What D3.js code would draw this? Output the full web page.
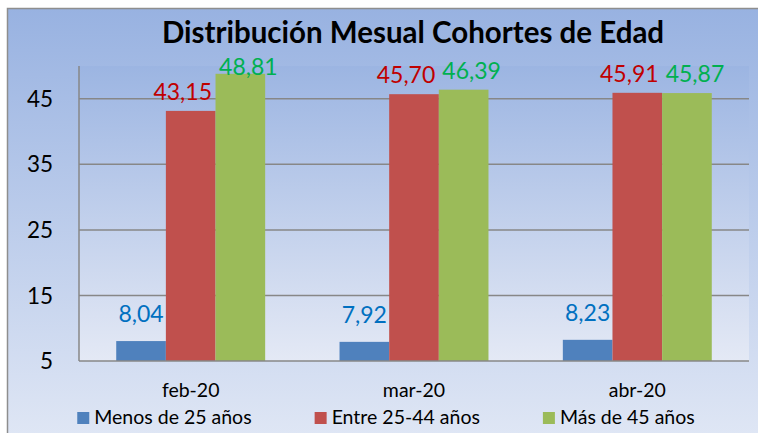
<!DOCTYPE html>
<html>
<head>
<meta charset="utf-8">
<script src="https://cdn.jsdelivr.net/npm/d3@7"></script>
<style>
	body { margin: 0; background: #ffffff; }
	text { font-family: Lato, "Open Sans", sans-serif; }
	.title { font-size: 29.5px; font-weight: bold; fill: #000000; }
	.tick-label { font-size: 22.5px; fill: #000000; }
	.cat-label { font-size: 19.5px; fill: #000000; }
	.value-label { font-size: 23px; }
	.legend-text { font-size: 19.5px; fill: #000000; }
</style>
</head>
<body>
<div id="chart"></div>
<script>
var months = ["feb-20", "mar-20", "abr-20"];
var seriesNames = ["Menos de 25 años", "Entre 25-44 años", "Más de 45 años"];
var menos25 = [8.04, 7.92, 8.23];
var entre2544 = [43.15, 45.70, 45.91];
var mas45 = [48.81, 46.39, 45.87];
var yTicks = [5, 15, 25, 35, 45];

var barColors = ["#4f81bd", "#c0504d", "#9bbb59"];
var labelColors = ["#0070c0", "#c00000", "#00b050"];

///////////////////////////////////////////////////////////////////////////
//////////////////////////// Set up the SVG ///////////////////////////////
///////////////////////////////////////////////////////////////////////////
var width = 758,
	height = 433;
var plot = { left: 79, right: 749, top: 66, bottom: 361 };

var svg = d3.select("#chart")
	.append("svg")
	.attr("width", width)
	.attr("height", height);

var defs = svg.append("defs");

var bgGrad = defs.append("linearGradient")
	.attr("id", "bg-grad")
	.attr("x1", 0).attr("y1", 0).attr("x2", 0).attr("y2", 1);
bgGrad.append("stop").attr("offset", "0%").attr("stop-color", "#98b2e1");
bgGrad.append("stop").attr("offset", "100%").attr("stop-color", "#e0e7f5");

var plotGrad = defs.append("linearGradient")
	.attr("id", "plot-grad")
	.attr("x1", 0).attr("y1", 0).attr("x2", 0).attr("y2", 1);
plotGrad.append("stop").attr("offset", "0%").attr("stop-color", "#9cb5e2");
plotGrad.append("stop").attr("offset", "100%").attr("stop-color", "#e4e9f5");

//Chart background and frame
svg.append("rect")
	.attr("x", 7.5)
	.attr("y", 8.5)
	.attr("width", width)
	.attr("height", height)
	.style("fill", "url(#bg-grad)")
	.style("stroke", "#8e8e8e")
	.style("stroke-width", 1.5);

svg.append("rect")
	.attr("x", plot.left)
	.attr("y", plot.top)
	.attr("width", plot.right - plot.left)
	.attr("height", plot.bottom - plot.top)
	.style("fill", "url(#plot-grad)");

///////////////////////////////////////////////////////////////////////////
////////////////////////// Create the scales //////////////////////////////
///////////////////////////////////////////////////////////////////////////
var x0 = d3.scaleBand()
	.domain(months)
	.range([plot.left, plot.right])
	.paddingInner(0.333)
	.paddingOuter(0.1667);

var x1 = d3.scaleBand()
	.domain(seriesNames)
	.range([0, x0.bandwidth()]);

var y = d3.scaleLinear()
	.domain([5, 50])
	.range([plot.bottom, plot.top]);

var seriesValues = [menos25, entre2544, mas45];
var data = [];
months.forEach(function(m, i) {
	seriesNames.forEach(function(s, j) {
		data.push({ month: m, serie: s, idx: j, value: seriesValues[j][i] });
	});
});

var fmt = function(v) { return d3.format(".2f")(v).replace(".", ","); };

///////////////////////////////////////////////////////////////////////////
//////////////////////////// Grid and axes ////////////////////////////////
///////////////////////////////////////////////////////////////////////////
svg.selectAll(".grid-line")
	.data(yTicks.filter(function(d) { return d > 5; }))
	.enter().append("line")
	.attr("class", "grid-line")
	.attr("x1", plot.left)
	.attr("x2", plot.right)
	.attr("y1", function(d) { return y(d); })
	.attr("y2", function(d) { return y(d); })
	.style("stroke", "#878787")
	.style("stroke-width", 1.5);

svg.selectAll(".tick-label")
	.data(yTicks)
	.enter().append("text")
	.attr("class", "tick-label")
	.attr("x", 53)
	.attr("y", function(d) { return y(d); })
	.attr("dy", "0.36em")
	.style("text-anchor", "end")
	.text(function(d) { return d; });

svg.selectAll(".cat-label")
	.data(months)
	.enter().append("text")
	.attr("class", "cat-label")
	.attr("x", function(d) { return x0(d) + x0.bandwidth() / 2; })
	.attr("y", 397)
	.style("text-anchor", "middle")
	.text(function(d) { return d; });

///////////////////////////////////////////////////////////////////////////
//////////////////////////// Draw the bars ////////////////////////////////
///////////////////////////////////////////////////////////////////////////
svg.selectAll(".bar")
	.data(data)
	.enter().append("rect")
	.attr("class", "bar")
	.attr("x", function(d) { return x0(d.month) + x1(d.serie); })
	.attr("y", function(d) { return y(d.value); })
	.attr("width", x1.bandwidth())
	.attr("height", function(d) { return y(5) - y(d.value); })
	.style("fill", function(d) { return barColors[d.idx]; });

//axis lines on top of bars
svg.append("line")
	.attr("x1", plot.left).attr("x2", plot.left)
	.attr("y1", plot.top).attr("y2", plot.bottom)
	.style("stroke", "#878787")
	.style("stroke-width", 1.5);
svg.append("line")
	.attr("x1", plot.left).attr("x2", plot.right)
	.attr("y1", plot.bottom).attr("y2", plot.bottom)
	.style("stroke", "#878787")
	.style("stroke-width", 1.5);

//value labels, red ones pushed left and green ones right so they don't collide
var nudge = [0, -8, 8];
svg.selectAll(".value-label")
	.data(data)
	.enter().append("text")
	.attr("class", "value-label")
	.attr("x", function(d) { return x0(d.month) + x1(d.serie) + x1.bandwidth() / 2 + nudge[d.idx]; })
	.attr("y", function(d) {
		var off = d.idx === 0 ? 19 : 11;
		return Math.max(y(d.value) - off, 75);
	})
	.style("text-anchor", "middle")
	.style("fill", function(d) { return labelColors[d.idx]; })
	.text(function(d) { return fmt(d.value); });

///////////////////////////////////////////////////////////////////////////
//////////////////////////////// Title ////////////////////////////////////
///////////////////////////////////////////////////////////////////////////
svg.append("text")
	.attr("class", "title")
	.attr("x", 413)
	.attr("y", 43)
	.style("text-anchor", "middle")
	.text("Distribución Mesual Cohortes de Edad");

///////////////////////////////////////////////////////////////////////////
//////////////////////////////// Legend ///////////////////////////////////
///////////////////////////////////////////////////////////////////////////
var legend = svg.append("g").attr("class", "legend");
var legendItems = legend.selectAll(".legend-item")
	.data(seriesNames)
	.enter().append("g")
	.attr("class", "legend-item");

legendItems.append("rect")
	.attr("x", 0)
	.attr("y", 412)
	.attr("width", 12)
	.attr("height", 12)
	.style("fill", function(d, i) { return barColors[i]; });

legendItems.append("text")
	.attr("class", "legend-text")
	.attr("x", 17)
	.attr("y", 424)
	.text(function(d) { return d; });

var itemGap = 63, pos = 0, offsets = [];
legendItems.each(function() {
	offsets.push(pos);
	pos += 17 + d3.select(this).select("text").node().getComputedTextLength() + itemGap;
});
var totalW = pos - itemGap;
var startX = 386 - totalW / 2;
legendItems.attr("transform", function(d, i) { return "translate(" + (startX + offsets[i]) + ",0)"; });
</script>
</body>
</html>
